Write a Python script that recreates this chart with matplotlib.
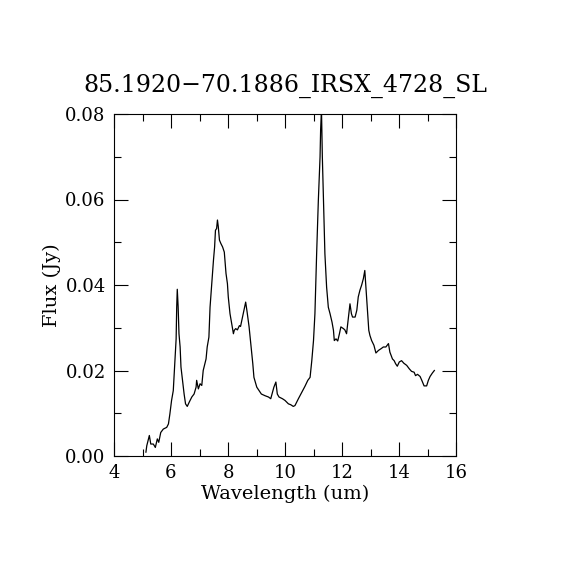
#!/usr/bin/env python3
"""Spitzer IRS SL spectrum of 85.1920-70.1886_IRSX_4728."""

import matplotlib
matplotlib.use("Agg")
import matplotlib.pyplot as plt
from matplotlib.ticker import MultipleLocator

TITLE = "85.1920\u221270.1886_IRSX_4728_SL"

# wavelength (um) and flux (Jy)
WAVE = [
    5.12, 5.15, 5.24, 5.29, 5.38, 5.45, 5.52, 5.57, 5.64, 5.73, 5.85, 5.91,
    5.96, 6.02, 6.08, 6.14, 6.18, 6.20, 6.22, 6.25, 6.28, 6.32, 6.35, 6.41,
    6.46, 6.51, 6.57, 6.64, 6.73, 6.81, 6.88, 6.90, 6.96, 7.02, 7.08, 7.13,
    7.23, 7.27, 7.33, 7.37, 7.43, 7.49, 7.53, 7.56, 7.60, 7.63, 7.66, 7.70,
    7.75, 7.81, 7.87, 7.93, 7.98, 8.01, 8.07, 8.13, 8.19, 8.22, 8.27, 8.33,
    8.40, 8.44, 8.51, 8.56, 8.62, 8.67, 8.74, 8.80, 8.87, 8.91, 9.01, 9.09,
    9.17, 9.30, 9.42, 9.50, 9.56, 9.61, 9.68, 9.73, 9.79, 9.91, 10.00, 10.12,
    10.20, 10.29, 10.35, 10.47, 10.59, 10.70, 10.80, 10.88, 10.94, 11.00,
    11.05, 11.11, 11.17, 11.23, 11.25, 11.28, 11.31, 11.35, 11.40, 11.46,
    11.52, 11.58, 11.65, 11.70, 11.73, 11.79, 11.85, 11.91, 11.96, 12.05,
    12.10, 12.16, 12.22, 12.28, 12.33, 12.37, 12.46, 12.52, 12.57, 12.63,
    12.69, 12.75, 12.80, 12.84, 12.89, 12.94, 12.98, 13.04, 13.12, 13.19,
    13.28, 13.37, 13.45, 13.54, 13.63, 13.68, 13.77, 13.83, 13.88, 13.94,
    14.01, 14.09, 14.17, 14.27, 14.36, 14.44, 14.53, 14.58, 14.65, 14.74,
    14.80, 14.88, 14.97, 15.03, 15.09, 15.17, 15.24,
]
FLUX = [
    0.0009, 0.0024, 0.0048, 0.0028, 0.0028, 0.0020, 0.0040, 0.0032, 0.0055,
    0.0063, 0.0067, 0.0075, 0.0098, 0.0130, 0.0153, 0.0223, 0.0274, 0.0348,
    0.0390, 0.0350, 0.0286, 0.0255, 0.0208, 0.0173, 0.0145, 0.0122, 0.0116,
    0.0126, 0.0138, 0.0145, 0.0161, 0.0177, 0.0157, 0.0169, 0.0165, 0.0200,
    0.0227, 0.0255, 0.0278, 0.0348, 0.0403, 0.0458, 0.0489, 0.0528, 0.0532,
    0.0552, 0.0536, 0.0505, 0.0497, 0.0489, 0.0477, 0.0427, 0.0403, 0.0372,
    0.0333, 0.0309, 0.0286, 0.0294, 0.0298, 0.0295, 0.0305, 0.0303, 0.0325,
    0.0341, 0.0360, 0.0337, 0.0302, 0.0263, 0.0216, 0.0184, 0.0161, 0.0153,
    0.0145, 0.0141, 0.0138, 0.0134, 0.0149, 0.0161, 0.0173, 0.0145, 0.0138,
    0.0134, 0.0130, 0.0122, 0.0120, 0.0116, 0.0118, 0.0134, 0.0149, 0.0163,
    0.0177, 0.0184, 0.0223, 0.0270, 0.0333, 0.0473, 0.0598, 0.0700, 0.0763,
    0.0810, 0.0700, 0.0598, 0.0473, 0.0395, 0.0348, 0.0333, 0.0313, 0.0294,
    0.0270, 0.0274, 0.0269, 0.0286, 0.0302, 0.0298, 0.0295, 0.0286, 0.0321,
    0.0356, 0.0333, 0.0325, 0.0325, 0.0341, 0.0372, 0.0388, 0.0400, 0.0415,
    0.0434, 0.0395, 0.0348, 0.0294, 0.0282, 0.0270, 0.0259, 0.0241, 0.0247,
    0.0251, 0.0255, 0.0255, 0.0263, 0.0243, 0.0227, 0.0223, 0.0216, 0.0210,
    0.0220, 0.0223, 0.0217, 0.0212, 0.0204, 0.0198, 0.0196, 0.0188, 0.0191,
    0.0186, 0.0177, 0.0164, 0.0164, 0.0177, 0.0186, 0.0194, 0.0200,
]

plt.rcParams["font.family"] = ["DejaVu Serif"]

fig = plt.figure(figsize=(5.7, 5.7), dpi=100)
ax = fig.add_axes([0.2, 0.2, 0.6, 0.6])

ax.plot(WAVE, FLUX, color="black", linewidth=0.9)

ax.set_xlim(4, 16)
ax.set_ylim(0, 0.08)
ax.xaxis.set_major_locator(MultipleLocator(2))
ax.xaxis.set_minor_locator(MultipleLocator(1))
ax.yaxis.set_major_locator(MultipleLocator(0.02))
ax.yaxis.set_minor_locator(MultipleLocator(0.01))
ax.yaxis.set_major_formatter(lambda v, pos: f"{v:.2f}")

ax.tick_params(which="both", direction="in", top=True, right=True,
               labelsize=13, width=0.8, colors="black")
ax.tick_params(which="major", length=10, pad=6)
ax.tick_params(which="minor", length=5)
for sp in ax.spines.values():
    sp.set_linewidth(0.8)

ax.set_xlabel("Wavelength (um)", fontsize=14, labelpad=2)
ax.set_ylabel("Flux (Jy)", fontsize=14, labelpad=3)
ax.set_title(TITLE, fontsize=17, pad=16)

fig.savefig("out.png", dpi=100, facecolor="white")
